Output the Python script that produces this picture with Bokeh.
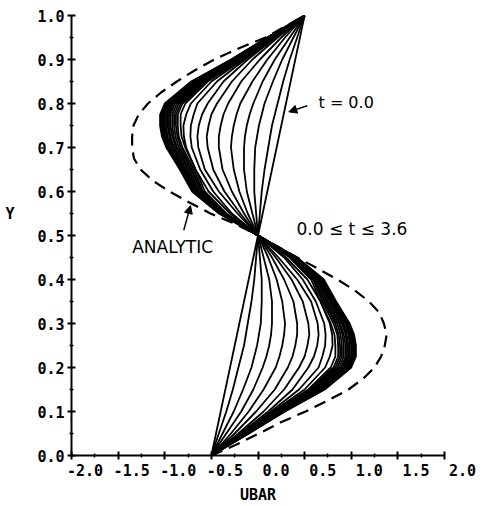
from bokeh.plotting import figure
from bokeh.models import Range1d, Label, Arrow, NormalHead, FixedTicker
from bokeh.embed import file_html
from bokeh.resources import INLINE

# ---------------- data ----------------
y_levels = [0.0, 0.05, 0.10, 0.15, 0.20, 0.225, 0.25, 0.275, 0.30, 0.35, 0.40, 0.45, 0.50,
            0.55, 0.60, 0.65, 0.70, 0.725, 0.75, 0.775, 0.80, 0.85, 0.90, 0.95, 1.0]

ubar_00 = [-0.5,-0.45,-0.4,-0.35,-0.3,-0.275,-0.25,-0.225,-0.2,-0.15,-0.1,-0.05,0.0,
           0.05,0.1,0.15,0.2,0.225,0.25,0.275,0.3,0.35,0.4,0.45,0.5]
ubar_01 = [-0.5,-0.42,-0.34,-0.27,-0.21,-0.18,-0.15,-0.13,-0.11,-0.07,-0.04,-0.02,0.0,
           0.02,0.04,0.07,0.11,0.13,0.15,0.18,0.21,0.27,0.34,0.42,0.5]
ubar_02 = [-0.5,-0.38,-0.26,-0.16,-0.07,-0.04,-0.01,0.01,0.03,0.04,0.04,0.02,0.0,
           -0.02,-0.04,-0.04,-0.03,-0.01,0.01,0.04,0.07,0.16,0.26,0.38,0.5]
ubar_03 = [-0.5,-0.34,-0.18,-0.05,0.05,0.09,0.12,0.14,0.15,0.15,0.12,0.06,0.0,
           -0.06,-0.12,-0.15,-0.15,-0.14,-0.12,-0.09,-0.05,0.05,0.18,0.34,0.5]
ubar_04 = [-0.5,-0.29,-0.10,0.06,0.19,0.23,0.26,0.28,0.29,0.26,0.20,0.11,0.0,
           -0.11,-0.20,-0.26,-0.29,-0.28,-0.26,-0.23,-0.19,-0.06,0.10,0.29,0.5]
ubar_05 = [-0.5,-0.25,-0.02,0.18,0.32,0.37,0.40,0.42,0.42,0.38,0.28,0.15,0.0,
           -0.15,-0.28,-0.38,-0.42,-0.42,-0.40,-0.37,-0.32,-0.18,0.02,0.25,0.5]
ubar_06 = [-0.5,-0.21,0.06,0.28,0.44,0.50,0.53,0.55,0.54,0.48,0.36,0.19,0.0,
           -0.19,-0.36,-0.48,-0.54,-0.55,-0.53,-0.50,-0.44,-0.28,-0.06,0.21,0.5]
ubar_07 = [-0.5,-0.19,0.11,0.37,0.54,0.60,0.635,0.65,0.64,0.57,0.42,0.22,0.0,
           -0.22,-0.42,-0.57,-0.64,-0.65,-0.635,-0.60,-0.54,-0.37,-0.11,0.19,0.5]
ubar_08 = [-0.5,-0.18,0.14,0.44,0.65,0.69,0.72,0.725,0.71,0.62,0.48,0.28,0.0,
           -0.28,-0.48,-0.62,-0.71,-0.725,-0.72,-0.69,-0.65,-0.44,-0.14,0.18,0.5]
ubar_09 = [-0.5,-0.17,0.16,0.50,0.72,0.77,0.80,0.795,0.77,0.67,0.53,0.30,0.0,
           -0.30,-0.53,-0.67,-0.77,-0.795,-0.80,-0.77,-0.72,-0.50,-0.16,0.17,0.5]
ubar_10 = [-0.5,-0.16,0.17,0.54,0.78,0.83,0.83,0.82,0.78,0.67,0.57,0.34,0.0,
           -0.34,-0.57,-0.67,-0.78,-0.82,-0.83,-0.83,-0.78,-0.54,-0.17,0.16,0.5]
ubar_11 = [-0.5,-0.15,0.19,0.56,0.81,0.86,0.86,0.85,0.81,0.69,0.59,0.35,0.0,
           -0.35,-0.59,-0.69,-0.81,-0.85,-0.86,-0.86,-0.81,-0.56,-0.19,0.15,0.5]
ubar_12 = [-0.5,-0.145,0.20,0.58,0.83,0.88,0.88,0.865,0.83,0.71,0.60,0.36,0.0,
           -0.36,-0.60,-0.71,-0.83,-0.865,-0.88,-0.88,-0.83,-0.58,-0.20,0.145,0.5]
ubar_13 = [-0.5,-0.14,0.21,0.59,0.85,0.90,0.90,0.885,0.85,0.72,0.61,0.36,0.0,
           -0.36,-0.61,-0.72,-0.85,-0.885,-0.90,-0.90,-0.85,-0.59,-0.21,0.14,0.5]
ubar_14 = [-0.5,-0.13,0.22,0.61,0.87,0.92,0.92,0.905,0.87,0.74,0.63,0.37,0.0,
           -0.37,-0.63,-0.74,-0.87,-0.905,-0.92,-0.92,-0.87,-0.61,-0.22,0.13,0.5]
ubar_15 = [-0.5,-0.13,0.23,0.63,0.89,0.94,0.94,0.92,0.88,0.75,0.64,0.38,0.0,
           -0.38,-0.64,-0.75,-0.88,-0.92,-0.94,-0.94,-0.89,-0.63,-0.23,0.13,0.5]
ubar_16 = [-0.5,-0.125,0.24,0.64,0.905,0.955,0.955,0.94,0.90,0.77,0.65,0.38,0.0,
           -0.38,-0.65,-0.77,-0.90,-0.94,-0.955,-0.955,-0.905,-0.64,-0.24,0.125,0.5]
ubar_17 = [-0.5,-0.12,0.25,0.65,0.92,0.97,0.97,0.95,0.91,0.78,0.66,0.39,0.0,
           -0.39,-0.66,-0.78,-0.91,-0.95,-0.97,-0.97,-0.92,-0.65,-0.25,0.12,0.5]
ubar_18 = [-0.5,-0.12,0.25,0.66,0.935,0.985,0.985,0.97,0.92,0.79,0.67,0.39,0.0,
           -0.39,-0.67,-0.79,-0.92,-0.97,-0.985,-0.985,-0.935,-0.66,-0.25,0.12,0.5]
ubar_19 = [-0.5,-0.11,0.26,0.675,0.95,1.0,1.0,0.98,0.94,0.80,0.675,0.40,0.0,
           -0.40,-0.675,-0.80,-0.94,-0.98,-1.0,-1.0,-0.95,-0.675,-0.26,0.11,0.5]
ubar_20 = [-0.5,-0.11,0.27,0.68,0.96,1.01,1.01,0.99,0.95,0.81,0.68,0.40,0.0,
           -0.40,-0.68,-0.81,-0.95,-0.99,-1.01,-1.01,-0.96,-0.68,-0.27,0.11,0.5]
ubar_21 = [-0.5,-0.107,0.273,0.69,0.97,1.02,1.02,1.0,0.956,0.815,0.687,0.407,0.0,
           -0.407,-0.687,-0.815,-0.956,-1.0,-1.02,-1.02,-0.97,-0.69,-0.273,0.107,0.5]
ubar_22 = [-0.5,-0.104,0.278,0.70,0.98,1.03,1.03,1.01,0.965,0.823,0.694,0.411,0.0,
           -0.411,-0.694,-0.823,-0.965,-1.01,-1.03,-1.03,-0.98,-0.70,-0.278,0.104,0.5]
ubar_23 = [-0.5,-0.10,0.284,0.708,0.99,1.04,1.04,1.02,0.974,0.83,0.70,0.414,0.0,
           -0.414,-0.70,-0.83,-0.974,-1.02,-1.04,-1.04,-0.99,-0.708,-0.284,0.10,0.5]
ubar_24 = [-0.5,-0.099,0.289,0.716,1.0,1.05,1.05,1.03,0.983,0.838,0.706,0.418,0.0,
           -0.418,-0.706,-0.838,-0.983,-1.03,-1.05,-1.05,-1.0,-0.716,-0.289,0.099,0.5]

analytic_y = [0.0, 0.025, 0.05, 0.075, 0.10, 0.125, 0.15, 0.175, 0.20, 0.225, 0.25,
              0.275, 0.30, 0.325, 0.35, 0.375, 0.40, 0.425, 0.45, 0.475, 0.50,
              0.525, 0.55, 0.575, 0.60, 0.625, 0.65, 0.675, 0.70, 0.725, 0.75,
              0.775, 0.80, 0.825, 0.85, 0.875, 0.90, 0.925, 0.95, 0.975, 1.0]
analytic_ubar = [-0.50, -0.23, 0.01, 0.24, 0.51, 0.75, 0.97, 1.13, 1.25, 1.32, 1.36,
                 1.38, 1.35, 1.30, 1.19, 1.04, 0.85, 0.64, 0.42, 0.21, 0.00,
                 -0.23, -0.51, -0.735, -0.95, -1.13, -1.26, -1.33, -1.35, -1.35, -1.335,
                 -1.28, -1.18, -1.04, -0.87, -0.68, -0.47, -0.21, 0.08, 0.29, 0.50]

x_ticks = [-2.0, -1.5, -1.0, -0.5, 0.0, 0.5, 1.0, 1.5, 2.0]
x_minor_ticks = [-1.75, -1.25, -0.75, -0.25, 0.25, 0.75, 1.25, 1.75]
x_tick_labels = ["-2.0", "-1.5", "-1.0", "-0.5", "0.0", "0.5", "1.0", "1.5", "2.0"]
y_ticks = [0.0, 0.1, 0.2, 0.3, 0.4, 0.5, 0.6, 0.7, 0.8, 0.9, 1.0]
y_minor_ticks = [0.05, 0.15, 0.25, 0.35, 0.45, 0.55, 0.65, 0.75, 0.85, 0.95]
y_tick_labels = ["0.0", "0.1", "0.2", "0.3", "0.4", "0.5", "0.6", "0.7", "0.8", "0.9", "1.0"]

curves = [ubar_00, ubar_01, ubar_02, ubar_03, ubar_04, ubar_05, ubar_06, ubar_07,
          ubar_08, ubar_09, ubar_10, ubar_11, ubar_12, ubar_13, ubar_14, ubar_15,
          ubar_16, ubar_17, ubar_18, ubar_19, ubar_20, ubar_21, ubar_22, ubar_23, ubar_24]

# ---------------- figure ----------------
MONO = "DejaVu Sans Mono"
SANS = "DejaVu Sans"

p = figure(width=484, height=506, output_backend="svg", toolbar_location=None,
           x_range=Range1d(-2.0, 2.0), y_range=Range1d(0.0, 1.0),
           min_border_left=71, min_border_right=40, min_border_top=15, min_border_bottom=44,
           x_axis_label="UBAR", y_axis_label="Y\n\n")
p.outline_line_color = None
p.grid.visible = False
p.background_fill_color = "white"
p.border_fill_color = "white"

for c in curves:
    p.line(c, y_levels, line_color="black", line_width=1.8, line_join="round")

p.line(analytic_ubar, analytic_y, line_color="black", line_width=2.2, line_dash="12 7")

# axes
for ax in (p.xaxis[0], p.yaxis[0]):
    ax.axis_line_width = 2
    ax.axis_line_color = "black"
    ax.major_tick_line_width = 2
    ax.major_tick_line_color = "black"
    ax.minor_tick_line_width = 1.5
    ax.minor_tick_line_color = "black"
    ax.major_tick_in = 4
    ax.major_tick_out = 4
    ax.minor_tick_in = 2
    ax.minor_tick_out = 2
    ax.major_label_text_font = MONO
    ax.major_label_text_font_style = "bold"
    ax.major_label_text_font_size = "15px"
    ax.major_label_text_color = "black"
    ax.axis_label_text_font = MONO
    ax.axis_label_text_font_style = "bold"
    ax.axis_label_text_font_size = "15px"
    ax.axis_label_text_color = "black"

p.xaxis.ticker = FixedTicker(ticks=x_ticks, minor_ticks=x_minor_ticks)
p.yaxis.ticker = FixedTicker(ticks=y_ticks, minor_ticks=y_minor_ticks)
p.xaxis.major_label_standoff = 2
p.yaxis.major_label_standoff = 3
p.xaxis.axis_label_standoff = 3
p.yaxis.axis_label_standoff = 20
p.yaxis.axis_label_orientation = "horizontal"

nb = "\u00a0"
p.xaxis.major_label_overrides = {
    t: (nb * 3 + lab if lab.startswith("-") else nb * 4 + lab)
    for t, lab in zip(x_ticks, x_tick_labels)
}
p.yaxis.major_label_overrides = {t: lab for t, lab in zip(y_ticks, y_tick_labels)}

# annotations
p.add_layout(Label(x=0.649, y=0.803, text="t = 0.0", text_align="left", text_baseline="middle",
                   text_font=SANS, text_font_size="16px", text_color="black"))
p.add_layout(Label(x=0.413, y=0.515, text="0.0 \u2264 t \u2264 3.6", text_align="left",
                   text_baseline="middle", text_font=SANS, text_font_size="17px", text_color="black"))
p.add_layout(Label(x=-1.349, y=0.474, text="ANALYTIC", text_align="left", text_baseline="middle",
                   text_font=SANS, text_font_size="17px", text_color="black"))

p.add_layout(Arrow(end=NormalHead(size=8, fill_color="black", line_color="black", line_width=1),
                   x_start=0.528, y_start=0.795, x_end=0.33, y_end=0.781,
                   line_width=1.5, line_color="black"))
p.add_layout(Arrow(end=NormalHead(size=8, fill_color="black", line_color="black", line_width=1),
                   x_start=-0.796, y_start=0.512, x_end=-0.724, y_end=0.568,
                   line_width=1.5, line_color="black"))

open("out.html", "w").write(file_html(p, INLINE))
